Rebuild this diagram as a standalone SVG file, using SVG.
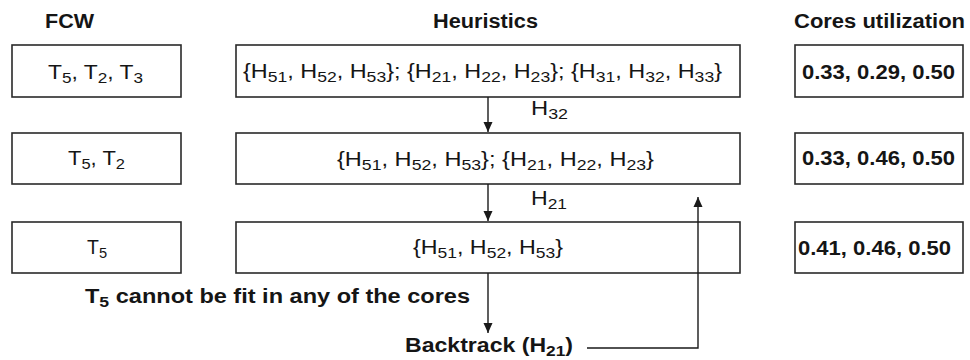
<svg xmlns="http://www.w3.org/2000/svg" width="970" height="360" viewBox="0 0 970 360">
<style>
.box{fill:#fff;stroke:#2a2a2a;stroke-width:1.6}
text{font-family:"Liberation Sans",Arial,sans-serif;font-size:20px;fill:#151515}
.b{font-weight:bold}
.s{font-size:15px}
.ln{fill:none;stroke:#1a1a1a;stroke-width:1.4}
</style>
<defs>
<marker id="ah" markerWidth="10" markerHeight="12" refX="10" refY="5" orient="auto" markerUnits="userSpaceOnUse"><path d="M0,0.5 L10,5 L0,9.5 z" fill="#1a1a1a"/></marker>
</defs>
<rect width="970" height="360" fill="#fff"/>
<g id="headers">
<text class="b" x="45" y="28" textLength="49" lengthAdjust="spacingAndGlyphs">FCW</text>
<text class="b" x="433" y="28" textLength="105" lengthAdjust="spacingAndGlyphs">Heuristics</text>
<text class="b" x="794" y="28" textLength="171" lengthAdjust="spacingAndGlyphs">Cores utilization</text>
</g>
<g id="fcw1"><rect class="box" x="12" y="45" width="169" height="52"/><text x="48" y="79" textLength="95" lengthAdjust="spacingAndGlyphs">T<tspan class="s" dy="4">5</tspan><tspan dy="-4">, T</tspan><tspan class="s" dy="4">2</tspan><tspan dy="-4">, T</tspan><tspan class="s" dy="4">3</tspan></text></g>
<g id="fcw2"><rect class="box" x="12" y="133" width="169" height="51"/><text x="68" y="165" textLength="57" lengthAdjust="spacingAndGlyphs">T<tspan class="s" dy="4">5</tspan><tspan dy="-4">, T</tspan><tspan class="s" dy="4">2</tspan></text></g>
<g id="fcw3"><rect class="box" x="12" y="222" width="169" height="51"/><text x="87" y="254" textLength="20" lengthAdjust="spacingAndGlyphs">T<tspan class="s" dy="4">5</tspan></text></g>
<g id="heur1"><rect class="box" x="236" y="45" width="504" height="52"/><text x="243" y="78" textLength="479" lengthAdjust="spacingAndGlyphs">{H<tspan class="s" dy="4">51</tspan><tspan dy="-4">, H</tspan><tspan class="s" dy="4">52</tspan><tspan dy="-4">, H</tspan><tspan class="s" dy="4">53</tspan><tspan dy="-4">}; {H</tspan><tspan class="s" dy="4">21</tspan><tspan dy="-4">, H</tspan><tspan class="s" dy="4">22</tspan><tspan dy="-4">, H</tspan><tspan class="s" dy="4">23</tspan><tspan dy="-4">}; {H</tspan><tspan class="s" dy="4">31</tspan><tspan dy="-4">, H</tspan><tspan class="s" dy="4">32</tspan><tspan dy="-4">, H</tspan><tspan class="s" dy="4">33</tspan><tspan dy="-4">}</tspan></text></g>
<g id="heur2"><rect class="box" x="236" y="133" width="504" height="51"/><text x="337" y="166" textLength="317" lengthAdjust="spacingAndGlyphs">{H<tspan class="s" dy="4">51</tspan><tspan dy="-4">, H</tspan><tspan class="s" dy="4">52</tspan><tspan dy="-4">, H</tspan><tspan class="s" dy="4">53</tspan><tspan dy="-4">}; {H</tspan><tspan class="s" dy="4">21</tspan><tspan dy="-4">, H</tspan><tspan class="s" dy="4">22</tspan><tspan dy="-4">, H</tspan><tspan class="s" dy="4">23</tspan><tspan dy="-4">}</tspan></text></g>
<g id="heur3"><rect class="box" x="236" y="222" width="504" height="51"/><text x="413" y="254" textLength="150" lengthAdjust="spacingAndGlyphs">{H<tspan class="s" dy="4">51</tspan><tspan dy="-4">, H</tspan><tspan class="s" dy="4">52</tspan><tspan dy="-4">, H</tspan><tspan class="s" dy="4">53</tspan><tspan dy="-4">}</tspan></text></g>
<g id="core1"><rect class="box" x="795" y="45" width="168" height="52"/><text class="b" x="802" y="79" textLength="153" lengthAdjust="spacingAndGlyphs">0.33, 0.29, 0.50</text></g>
<g id="core2"><rect class="box" x="795" y="133" width="168" height="51"/><text class="b" x="802" y="165" textLength="153" lengthAdjust="spacingAndGlyphs">0.33, 0.46, 0.50</text></g>
<g id="core3"><rect class="box" x="795" y="222" width="168" height="51"/><text class="b" x="798" y="255" textLength="153" lengthAdjust="spacingAndGlyphs">0.41, 0.46, 0.50</text></g>
<g id="note"><text class="b" x="85" y="303" textLength="385" lengthAdjust="spacingAndGlyphs">T<tspan class="s" dy="4">5</tspan><tspan dy="-4"> cannot be fit in any of the cores</tspan></text></g>
<g id="backtrack"><text class="b" x="405" y="352" textLength="168" lengthAdjust="spacingAndGlyphs">Backtrack (H<tspan class="s" dy="4">21</tspan><tspan dy="-4">)</tspan></text></g>
<g id="connectors">
<path class="ln" d="M488,97 L488,132" marker-end="url(#ah)"/>
<path class="ln" d="M488,184 L488,221" marker-end="url(#ah)"/>
<path class="ln" d="M488,273 L488,333" marker-end="url(#ah)"/>
<path class="ln" d="M587,348 L698,348 L698,197" marker-end="url(#ah)"/>
<text x="531" y="115" textLength="37" lengthAdjust="spacingAndGlyphs">H<tspan class="s" dy="4">32</tspan></text>
<text x="531" y="205" textLength="36" lengthAdjust="spacingAndGlyphs">H<tspan class="s" dy="4">21</tspan></text>
</g>
</svg>
